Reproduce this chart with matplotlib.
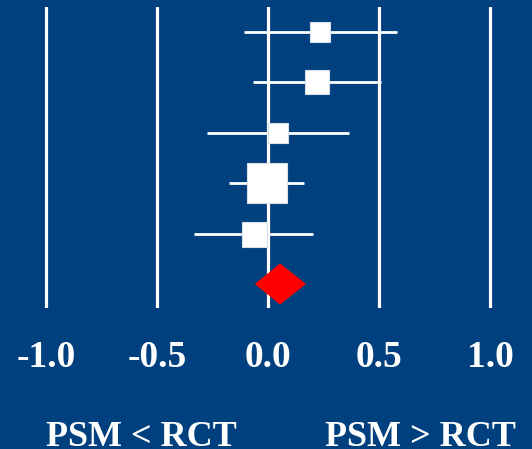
import matplotlib
matplotlib.use("Agg")
import matplotlib.pyplot as plt

# Data
estimates = [0.234, 0.219, 0.043, -0.007, -0.065]
ci_low = [-0.109, -0.070, -0.275, -0.176, -0.335]
ci_high = [0.578, 0.509, 0.362, 0.161, 0.203]
weights = [13.7, 16.6, 14.4, 28.8, 18.0]   # marker side (pt), study weights
pooled_est = 0.053
pooled_low = -0.061
pooled_high = 0.170
xticks = [-1.0, -0.5, 0.0, 0.5, 1.0]
xtick_labels = ["-1.0", "-0.5", "0.0", "0.5", "1.0"]
left_label = "PSM < RCT"
right_label = "PSM > RCT"

BG = "#01407f"
W, H = 532, 449
fig = plt.figure(figsize=(W / 100, H / 100), dpi=100, facecolor=BG)

top_px, bot_px = 7, 308
ax = fig.add_axes([0, (H - bot_px) / H, 1, (bot_px - top_px) / H])
ax.set_facecolor(BG)
px_per_unit = 222.0
zero_px = 268.3
ax.set_xlim(-zero_px / px_per_unit, (W - zero_px) / px_per_unit)
row_px = 50.4
first_px = 32
ax.set_ylim((bot_px - first_px) / row_px, (top_px - first_px) / row_px)

for s in ax.spines.values():
    s.set_visible(False)
ax.set_yticks([])
ax.set_xticks(xticks)
ax.set_xticklabels(xtick_labels, family="Liberation Serif", fontweight="bold",
                   fontsize=27, color="white")
ax.tick_params(axis="x", length=0, pad=23)
ax.grid(axis="x", color="white", linewidth=2.3)
ax.set_axisbelow(True)

for i, (e, lo, hi, w) in enumerate(zip(estimates, ci_low, ci_high, weights)):
    ax.plot([lo, hi], [i, i], color="white", linewidth=2.0, zorder=3,
            solid_capstyle="butt")
    ax.plot([e], [i], marker="s", markersize=w, color="white",
            markeredgecolor="#d8dfe8", markeredgewidth=0.8, zorder=4,
            linestyle="none")

yd = len(estimates)
hh = 0.407
ax.fill([pooled_low, pooled_est, pooled_high, pooled_est],
        [yd, yd - hh, yd, yd + hh], color="#ff0000", zorder=5, linewidth=0)

fig.text(141 / W, (H - 446) / H, left_label, ha="center", va="baseline",
         family="Liberation Serif", fontweight="bold", fontsize=26, color="white")
fig.text(420.5 / W, (H - 446) / H, right_label, ha="center", va="baseline",
         family="Liberation Serif", fontweight="bold", fontsize=26, color="white")

fig.savefig("out.png", dpi=100, facecolor=BG)
